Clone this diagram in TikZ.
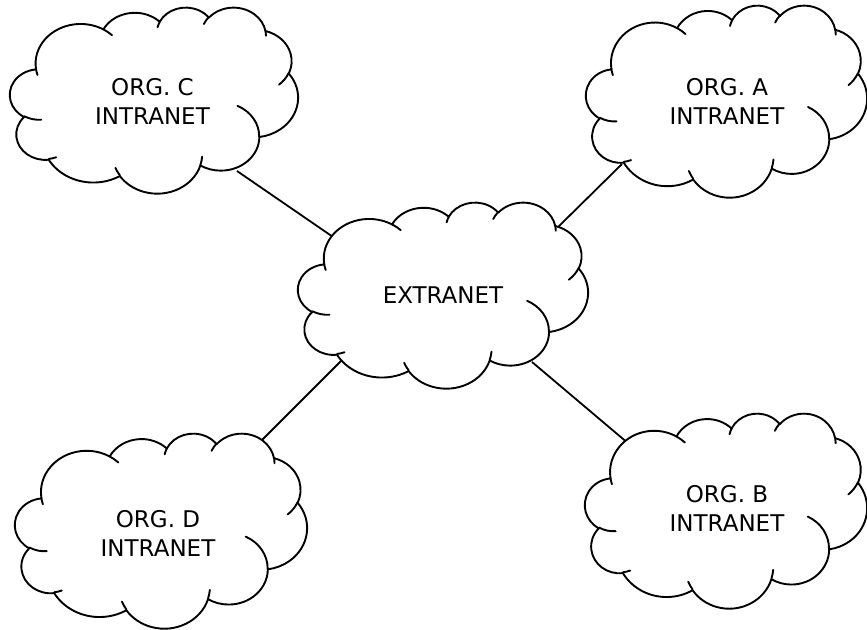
\documentclass[tikz,border=0pt]{standalone}
\usepackage{fontspec}
\setmainfont{DejaVu Sans}
\newcommand\cldang[5]{%
  \pgfmathsetmacro\cldtmpA{atan2(sin(#4)/#3, cos(#4)/#2)}%
  \pgfmathsetmacro\cldtmpB{atan2(sin(#4+#5)/#3, cos(#4+#5)/#2)}%
  \pgfmathsetmacro\cldtmpD{mod(\cldtmpB-\cldtmpA+720,360)}%
  \expandafter\xdef\csname cld#1s\endcsname{\cldtmpA}%
  \expandafter\xdef\csname cld#1d\endcsname{\cldtmpD}%
}
% outer outline arcs
\cldang{oa}{6.753}{9.190}{-190.48748}{123.78053}
\cldang{ob}{5.333}{7.267}{-144.10238}{89.94523}
\cldang{oc}{4.365}{5.945}{-145.80792}{99.72302}
\cldang{od}{4.857}{6.595}{-130.98607}{117.24173}
\cldang{oe}{5.333}{7.273}{-78.70888}{109.02692}
\cldang{of}{6.775}{9.220}{-46.26725}{130.26900}
\cldang{og}{5.785}{7.867}{0.62502}{114.03333}
\cldang{oh}{6.752}{9.215}{22.45160}{115.17255}
\cldang{oi}{7.720}{10.543}{66.24263}{75.71102}
\cldang{oj}{4.360}{5.918}{-274.94208}{146.73557}
\cldang{ok}{4.345}{5.945}{-246.82850}{152.51885}
% inner arcs
\cldang{ia}{4.345}{5.945}{86.742}{26.4295}
\cldang{ib}{4.360}{5.918}{73.61047}{11.44747}
\cldang{ic}{6.752}{9.215}{137.62415}{14.0811}
\cldang{id}{6.752}{9.215}{6.45327}{15.99835}
\cldang{ie}{5.785}{7.867}{-70.29235}{70.91737}
\cldang{if}{5.333}{7.273}{30.31803}{27.7515}
\cldang{ig}{4.857}{6.595}{-13.74433}{14.8589}
\cldang{ih}{4.857}{6.595}{-149.18145}{18.19537}
\cldang{ii}{4.365}{5.945}{-163.49427}{17.68635}
\cldang{ij}{6.753}{9.190}{-66.70695}{12.31935}
\cldang{ik}{6.753}{9.190}{157.65435}{11.85817}

\newcommand\cloudat[4]{%
\begin{scope}[shift={(#1,#2)}, xscale=#3/43.2, yscale=#4/43.2]
 \draw[cloudline, fill=white] (3.900,14.370)
   arc[start angle=\cldoas, delta angle=\cldoad, x radius=6.753, y radius=9.190]
   arc[start angle=\cldobs, delta angle=\cldobd, x radius=5.333, y radius=7.267]
   arc[start angle=\cldocs, delta angle=\cldocd, x radius=4.365, y radius=5.945]
   arc[start angle=\cldods, delta angle=\cldodd, x radius=4.857, y radius=6.595]
   arc[start angle=\cldoes, delta angle=\cldoed, x radius=5.333, y radius=7.273]
   arc[start angle=\cldofs, delta angle=\cldofd, x radius=6.775, y radius=9.220]
   arc[start angle=\cldogs, delta angle=\cldogd, x radius=5.785, y radius=7.867]
   arc[start angle=\cldohs, delta angle=\cldohd, x radius=6.752, y radius=9.215]
   arc[start angle=\cldois, delta angle=\cldoid, x radius=7.720, y radius=10.543]
   arc[start angle=\cldojs, delta angle=\cldojd, x radius=4.360, y radius=5.918]
   arc[start angle=\cldoks, delta angle=\cldokd, x radius=4.345, y radius=5.945]
   -- cycle;
 \draw[cloudline]
   (4.693,26.177) arc[start angle=\cldias, delta angle=\cldiad, x radius=4.345, y radius=5.945]
   (6.928,34.899) arc[start angle=\cldibs, delta angle=\cldibd, x radius=4.360, y radius=5.918]
   (16.478,39.090) arc[start angle=\cldics, delta angle=\cldicd, x radius=6.752, y radius=9.215]
   (28.827,34.751) arc[start angle=\cldids, delta angle=\cldidd, x radius=6.752, y radius=9.215]
   (34.129,22.954) arc[start angle=\cldies, delta angle=\cldied, x radius=5.785, y radius=7.867]
   (41.798,15.354) arc[start angle=\cldifs, delta angle=\cldifd, x radius=5.333, y radius=7.273]
   (38.324,5.426) arc[start angle=\cldigs, delta angle=\cldigd, x radius=4.857, y radius=6.595]
   (29.078,3.952) arc[start angle=\cldihs, delta angle=\cldihd, x radius=4.857, y radius=6.595]
   (22.141,4.720) arc[start angle=\cldiis, delta angle=\cldiid, x radius=4.365, y radius=5.945]
   (14.000,5.192) arc[start angle=\cldijs, delta angle=\cldijd, x radius=6.753, y radius=9.190]
   (4.127,15.789) arc[start angle=\cldiks, delta angle=\cldikd, x radius=6.753, y radius=9.190];
\end{scope}}

\begin{document}
\begin{tikzpicture}[x=1pt, y=-1pt,
  cloudline/.style={black, line width=1.9pt, line join=round, line cap=round},
  conn/.style={black, line width=1.8pt},
  lbl/.style={align=center, inner sep=0pt, font=\fontsize{23}{29}\selectfont}]
\fill[white] (0,0) rectangle (867,629);
\useasboundingbox (0,0) rectangle (867,629);
% connector end points
\coordinate (cC) at (237,171);
\coordinate (cEC) at (336,239);
\coordinate (cA) at (622,164);
\coordinate (cEA) at (554,231);
\coordinate (cD) at (260,442);
\coordinate (cED) at (342,360);
\coordinate (cB) at (629,444);
\coordinate (cEB) at (532,362);
\draw[conn] (cC) -- (cEC);
\draw[conn] (cA) -- (cEA);
\draw[conn] (cD) -- (cED);
\draw[conn] (cB) -- (cEB);
% clouds
\cloudat{10}{7}{288}{186}
\cloudat{298}{202}{290}{186}
\cloudat{586}{5}{281}{192}
\cloudat{585}{413}{282}{195}
\cloudat{15}{433}{292}{195}
% labels
\node[lbl] (orgc) at (152.5,101) {ORG. C\\INTRANET};
\node[lbl] (orga) at (727,101) {ORG. A\\INTRANET};
\node[lbl] (orgb) at (727,508) {ORG. B\\INTRANET};
\node[lbl] (orgd) at (158,533) {ORG. D\\INTRANET};
\node[lbl] (ext) at (443,295) {EXTRANET};
\end{tikzpicture}
\end{document}
